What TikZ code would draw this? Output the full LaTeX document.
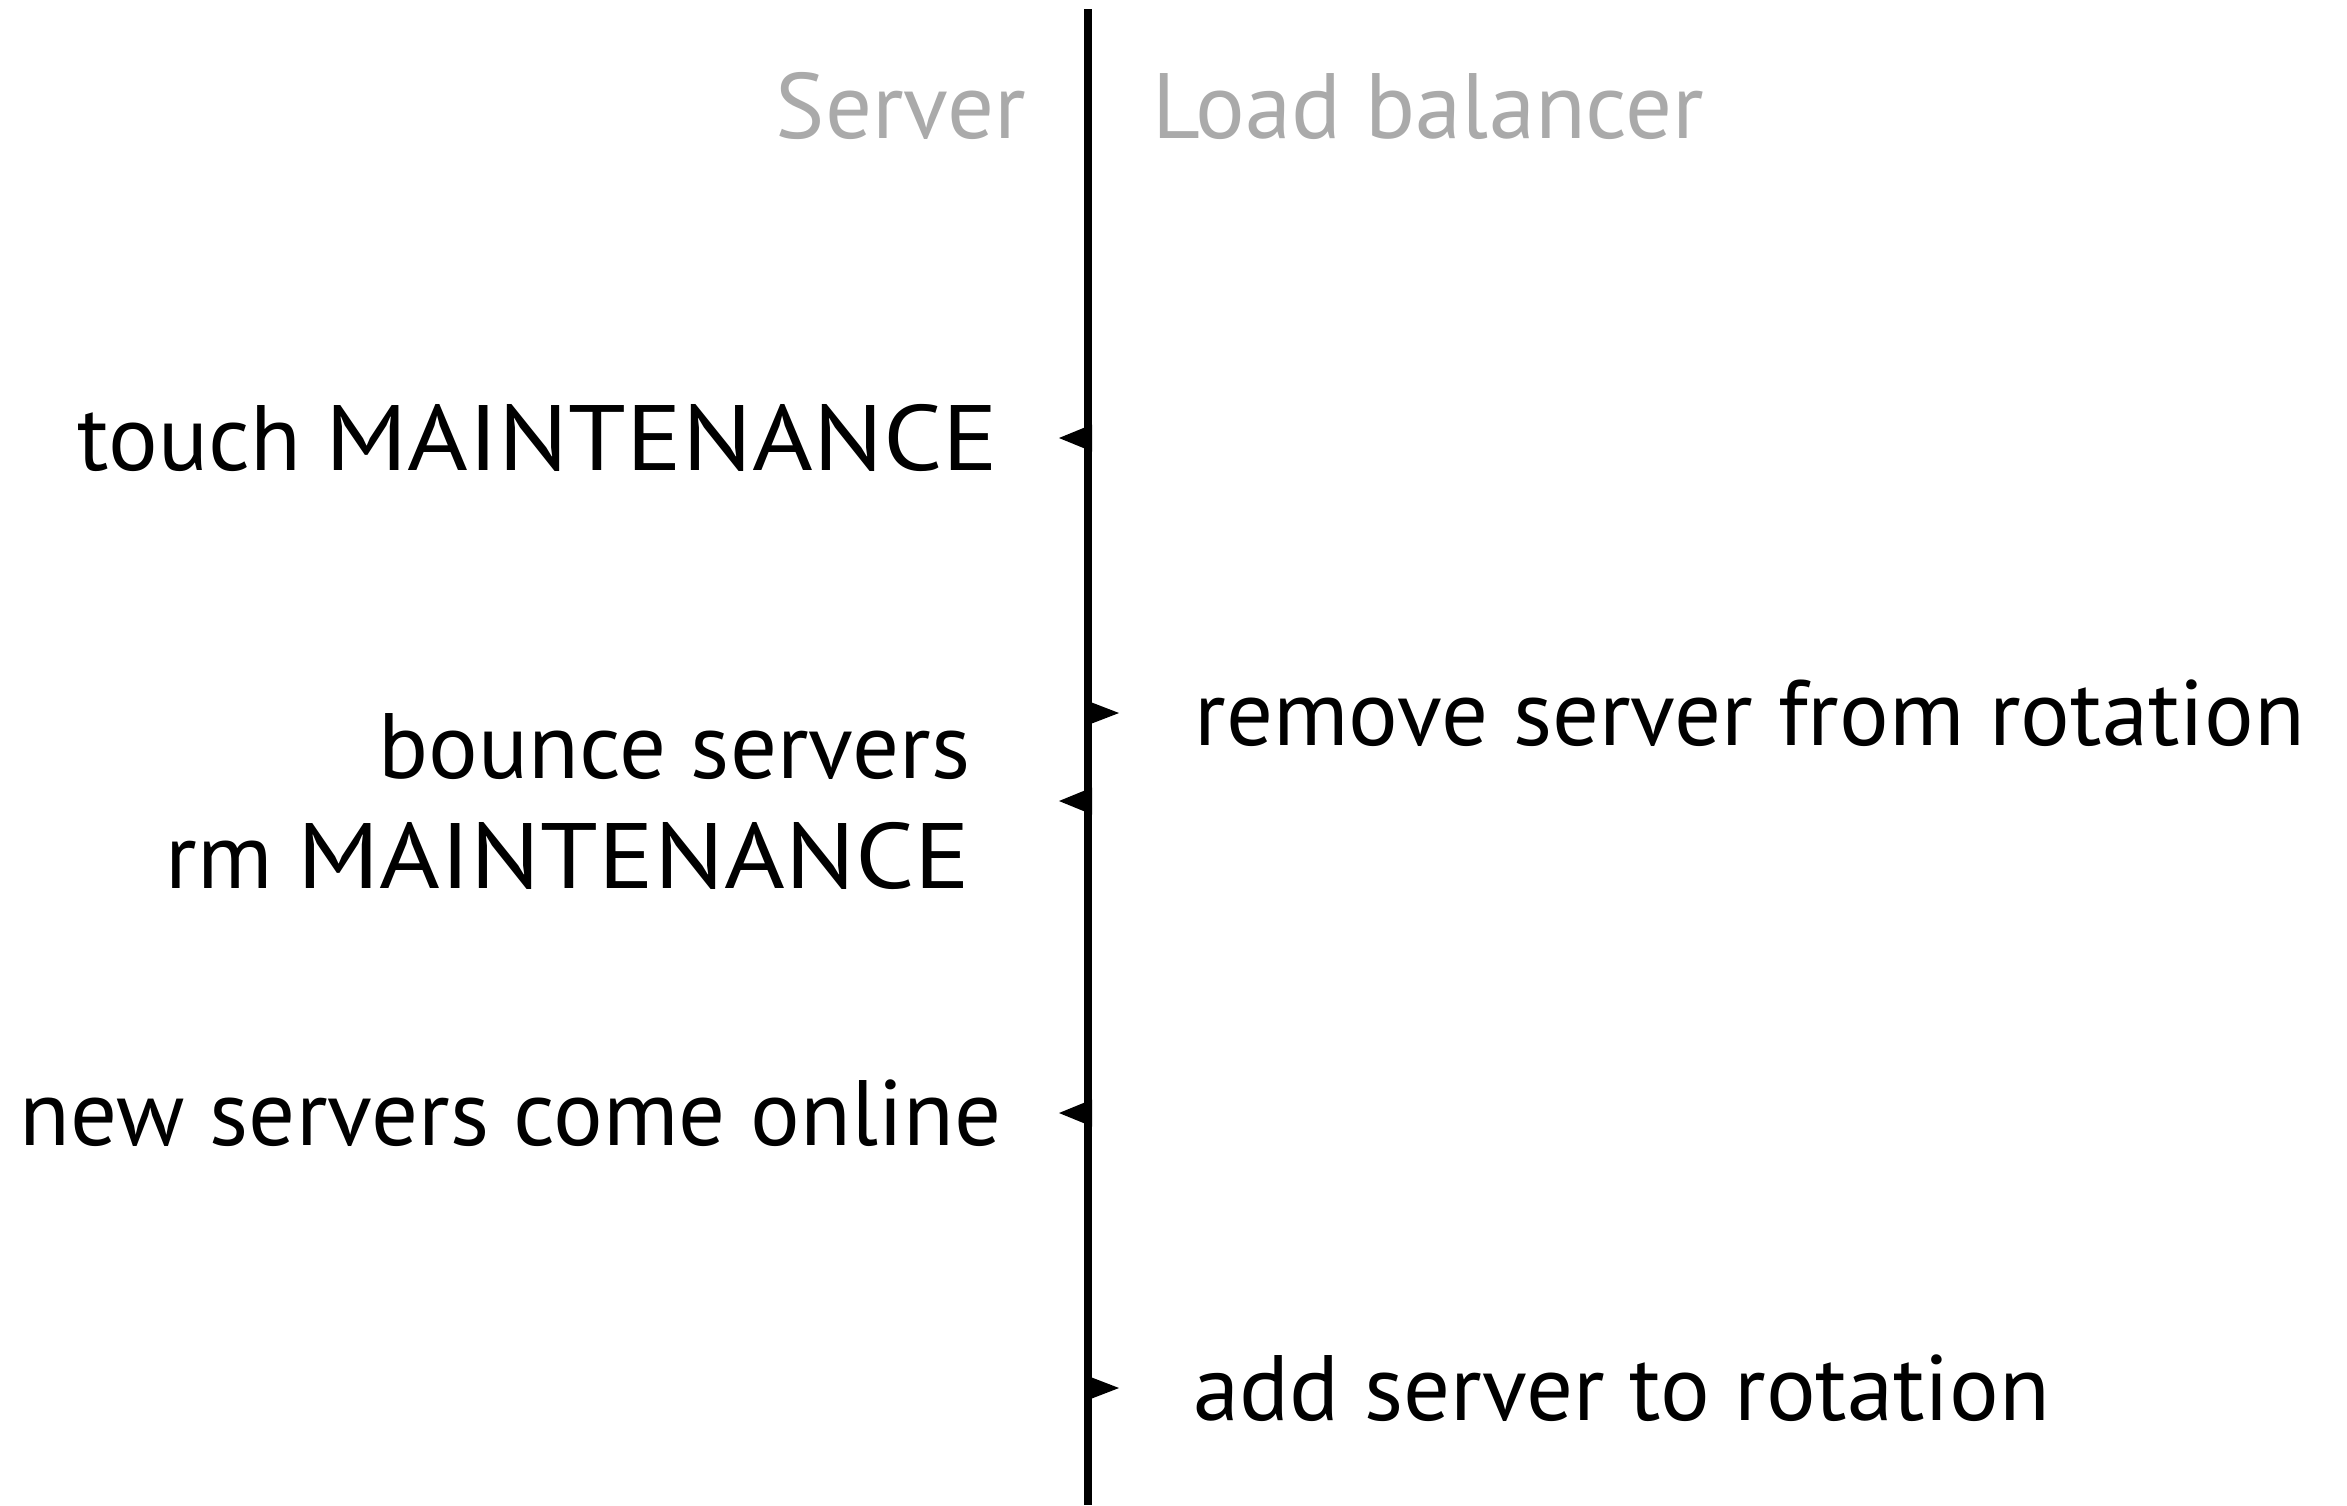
\documentclass[tikz,border=0pt]{standalone}
\usepackage{fontspec}
\usepackage{graphicx}
\setmainfont{PT Sans}
\definecolor{headgrey}{HTML}{AAAAAA}
\newcommand{\wcaps}[1]{\scalebox{1.12}[1]{#1}}
\begin{document}
\begin{tikzpicture}[x=0.01cm,y=-0.01cm,
  lbl/.style={inner sep=0pt,font=\fontsize{26.4}{30}\selectfont},
  head/.style={lbl,text=headgrey},
  tipl/.style={fill=black},
]
\useasboundingbox (0,0) rectangle (2347,1505);
\coordinate (top) at (1088,9);
\coordinate (bot) at (1088,1505);
\draw[line width=0.8mm] (top) -- (bot);
% headers
\node[head,anchor=base east] (srv) at (1027,138) {Server};
\node[head,anchor=base west] (lb) at (1152,138) {Load balancer};
% labels
\node[lbl,anchor=base east] (touch) at (999,470) {touch \wcaps{MAINTENANCE}};
\node[lbl,anchor=base west] (remove) at (1194,745) {remove server from rotation};
\node[lbl,anchor=base east] (bounce) at (971,778) {bounce servers};
\node[lbl,anchor=base east] (rm) at (971,888) {rm \wcaps{MAINTENANCE}};
\node[lbl,anchor=base east] (new) at (1002,1145) {new servers come online};
\node[lbl,anchor=base west] (add) at (1193,1420) {add server to rotation};
% event marks
\coordinate (e1) at (1088,438);
\coordinate (e2) at (1088,713);
\coordinate (e3) at (1088,801);
\coordinate (e4) at (1088,1113);
\coordinate (e5) at (1088,1388);
\foreach \e in {e1,e3,e4}
  \fill[tipl] ([xshift=0.04cm,yshift=0.135cm]\e) -- ([xshift=-0.29cm]\e) -- ([xshift=0.04cm,yshift=-0.135cm]\e) -- cycle;
\foreach \e in {e2,e5}
  \fill[tipl] ([xshift=-0.04cm,yshift=0.135cm]\e) -- ([xshift=0.31cm]\e) -- ([xshift=-0.04cm,yshift=-0.135cm]\e) -- cycle;
\end{tikzpicture}
\end{document}
